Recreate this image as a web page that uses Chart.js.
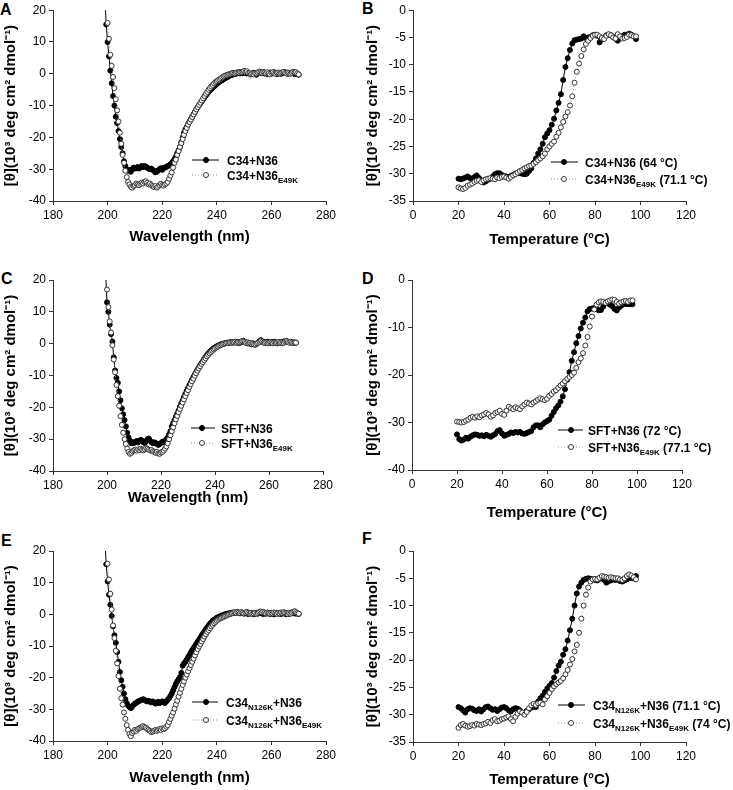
<!DOCTYPE html>
<html>
<head>
<meta charset="utf-8">
<script src="https://cdn.jsdelivr.net/npm/chart.js@4.4.1/dist/chart.umd.min.js"></script>
<style>
  body { margin: 0; background: #fff; width: 733px; height: 790px; position: relative; overflow: hidden; }
  canvas { position: absolute; }
  .letter { position: absolute; font: bold 16px "Liberation Sans", Arial, sans-serif; line-height: 16px; color: #000; }
</style>
</head>
<body>
<div class="letter" style="left:0px;top:2px">A</div>
<div class="letter" style="left:362px;top:1px">B</div>
<div class="letter" style="left:1px;top:271px">C</div>
<div class="letter" style="left:362px;top:271px">D</div>
<div class="letter" style="left:1px;top:533px">E</div>
<div class="letter" style="left:362px;top:531px">F</div>
<script>
// wavelength scans, 0.5 nm steps
const wavelengths = [
  199, 199.5, 200, 200.5, 201, 201.5, 202, 202.5, 203, 203.5,
  204, 204.5, 205, 205.5, 206, 206.5, 207, 207.5, 208, 208.5,
  209, 209.5, 210, 210.5, 211, 211.5, 212, 212.5, 213, 213.5,
  214, 214.5, 215, 215.5, 216, 216.5, 217, 217.5, 218, 218.5,
  219, 219.5, 220, 220.5, 221, 221.5, 222, 222.5, 223, 223.5,
  224, 224.5, 225, 225.5, 226, 226.5, 227, 227.5, 228, 228.5,
  229, 229.5, 230, 230.5, 231, 231.5, 232, 232.5, 233, 233.5,
  234, 234.5, 235, 235.5, 236, 236.5, 237, 237.5, 238, 238.5,
  239, 239.5, 240, 240.5, 241, 241.5, 242, 242.5, 243, 243.5,
  244, 244.5, 245, 245.5, 246, 246.5, 247, 247.5, 248, 248.5,
  249, 249.5, 250, 250.5, 251, 251.5, 252, 252.5, 253, 253.5,
  254, 254.5, 255, 255.5, 256, 256.5, 257, 257.5, 258, 258.5,
  259, 259.5, 260, 260.5, 261, 261.5, 262, 262.5, 263, 263.5,
  264, 264.5, 265, 265.5, 266, 266.5, 267, 267.5, 268, 268.5,
  269, 269.5, 270
];

// A: C34+N36 / C34+N36(E49K)
const aC34N36 = [
  24, 15.5, 10, 5.5, 1, -3, -7, -10, -13.5, -15.5,
  -18, -20.5, -23, -25, -27.5, -29, -30, -30.5, -30.3, -30.8,
  -30, -29.5, -29.8, -29.7, -29.3, -29.8, -29.5, -29, -29.3, -29,
  -29.2, -29.5, -29.8, -30, -29.8, -30.2, -30.5, -31, -30.8, -30.4,
  -30, -29.7, -30.2, -29.6, -29.5, -29.3, -29, -28.8, -28.5, -28,
  -27.5, -26.8, -26, -25, -24, -23, -21.5, -20, -18.5, -17.5,
  -16.7, -15.8, -15, -14.2, -13.5, -12.7, -12, -11.2, -10.5, -9.9,
  -9.3, -8.6, -8, -7.4, -6.8, -6.2, -5.7, -5.2, -4.8, -4.4,
  -4, -3.6, -3.2, -2.8, -2.5, -2.2, -2, -1.7, -1.4, -1.2,
  -1, -0.7, -0.5, -0.3, -0.2, 0, 0, 0.2, 0.3, 0.1,
  0.4, 0.2, 0.5, 0.3, 0.1, 0.3, 0, -0.2, 0.1, 0.3,
  0, -0.3, 0.2, 0.6, 0.4, 0.2, 0.5, 0.1, 0.3, -0.1,
  0.2, 0.4, 0, 0.3, 0.5, 0.2, -0.1, 0.1, 0.3, 0,
  0.2, 0.4, 0.5, 0.2, 0, 0.3, 0.1, 0.4, 0.2, -0.1,
  0.1, 0, -0.3
];
const aC34N36E49K = [
  null, null, 16, 11, 6, 2.5, -1, -4.5, -8, -11.5,
  -15, -18.5, -22, -25.5, -28, -30.5, -32.5, -34, -34.8, -35.5,
  -35.8, -35.3, -35, -34.5, -34.8, -35, -34.6, -34.2, -34.5, -34,
  -33.8, -34.3, -34.8, -34.5, -35, -35.3, -35.6, -35.3, -35.8, -35.5,
  -35, -34.6, -35, -35.2, -34.8, -34.5, -34, -33, -32, -31,
  -29.5, -28, -27, -25.5, -24.3, -23, -21.8, -20.5, -19.2, -18,
  -17, -16, -15.2, -14.4, -13.6, -12.8, -12, -11.2, -10.5, -9.8,
  -9.1, -8.4, -7.7, -7, -6.3, -5.7, -5, -4.5, -4, -3.5,
  -3, -2.6, -2.3, -2, -1.7, -1.4, -1.1, -0.8, -0.6, -0.4,
  -0.3, -0.1, 0, 0.2, 0.3, 0.1, 0.3, 0.5, 0.4, 0.6,
  0.5, 0.7, 0.9, 0.6, 0.8, 0.3, 0.2, -0.1, 0.1, -0.2,
  0.2, 0.1, 0.4, 0.7, 0.5, 0.3, 0.6, 0.4, 0.2, 0.5,
  0.1, -0.2, 0.3, 0.5, 0.2, 0, 0.3, 0.4, 0.1, 0.3,
  0.5, 0.6, 0.3, 0.1, 0.4, 0.2, 0, 0.3, 0.6, 0.4,
  0.5, 0.1, -0.2
];

// C: SFT+N36 / SFT+N36(E49K)
const cSFTN36 = [
  null, 22, 13, 10, 6, 3, 0.6, -4.3, -8.4, -10.8,
  -12.3, -15, -17.8, -20.3, -22.2, -24, -26, -28, -29.5, -30.5,
  -31.3, -31, -31.2, -30.8, -30.6, -31, -30.5, -30.2, -30.5, -31,
  -31.2, -30.6, -30, -29.8, -30.5, -31, -31.3, -31, -31.2, -31.5,
  -31.8, -31.5, -31.2, -30.8, -31, -30.5, -30, -29.5, -28.5, -27.5,
  -26, -25, -24, -23, -22, -21, -19.8, -18.8, -17.8, -16.8,
  -15.8, -14.8, -14, -13, -12.2, -11.3, -10.5, -9.7, -9, -8.2,
  -7.5, -6.8, -6.1, -5.5, -4.8, -4.2, -3.6, -3.1, -2.6, -2.2,
  -1.8, -1.5, -1.2, -0.9, -0.7, -0.5, -0.3, -0.1, 0, 0.1,
  0.2, 0.3, 0.2, 0.4, 0.5, 0.3, 0.4, 0.6, 0.3, 0.5,
  0.2, 0.4, 0.7, 0.9, 0.6, 0.3, 0.1, 0.3, 0, -0.2,
  0.1, -0.1, -0.3, 0, 0.4, 0.8, 1.1, 0.7, 0.4, 0.5,
  0.3, 0.6, 0.4, 0.2, 0.5, 0.3, 0.6, 0.4, 0.1, 0.3,
  0.5, 0.2, 0.4, 0.7, 0.5, 0.8, 0.6, 0.4, 0.5, 0.3,
  0.4, 0.2, 0.3
];
const cSFTN36E49K = [
  null, null, 17, 11.5, 7, 3.5, -0.5, -5, -9, -13,
  -16.5, -19.5, -22.8, -25.5, -28, -30, -31.5, -33, -34, -34.6,
  -34.3, -33.8, -33.5, -33.3, -33.6, -33.2, -33.4, -33, -33.3, -33.5,
  -33.2, -32.8, -33, -33.3, -33.6, -33.4, -33.8, -34, -34.3, -34,
  -34.5, -34.6, -34.2, -34, -33.6, -33, -32.3, -31.3, -30, -28.8,
  -27.5, -26.3, -25, -23.8, -22.7, -21.6, -20.5, -19.5, -18.5, -17.5,
  -16.5, -15.5, -14.6, -13.6, -12.7, -11.8, -11, -10.1, -9.3, -8.5,
  -7.8, -7.1, -6.4, -5.8, -5.2, -4.6, -4, -3.5, -3, -2.6,
  -2.2, -1.8, -1.5, -1.2, -0.9, -0.7, -0.5, -0.3, -0.1, 0,
  0.1, 0.3, 0.2, 0.4, 0.3, 0.5, 0.4, 0.6, 0.3, 0.5,
  0.4, 0.6, 0.8, 0.7, 0.5, 0.2, 0.4, 0.1, 0.2, -0.1,
  0, -0.3, -0.2, 0.1, 0.3, 0.6, 0.9, 0.6, 0.3, 0.2,
  0.4, 0.1, 0.3, 0.5, 0.3, 0.1, 0.4, 0.2, 0.3, 0.5,
  0.2, 0.4, 0.1, 0.3, 0.6, 0.8, 0.5, 0.3, 0.6, 0.4,
  0.2, 0.4, 0.3
];

// E: C34(N126K)+N36 / C34(N126K)+N36(E49K)
const eC34N126KN36 = [
  24, 15.8, 10.4, 6.2, 3, -0.5, -3.8, -6.6, -9, -11.9,
  -15, -18.2, -20.8, -22.9, -25, -26.8, -28, -28.8, -29.3, -29.6,
  -29.2, -28.6, -28.2, -28, -27.6, -27.4, -27.2, -27, -26.8, -27,
  -27.3, -27.5, -27.3, -27.6, -27.8, -27.5, -27.8, -28.2, -28, -27.6,
  -28, -27.8, -27.5, -27.8, -28, -27.5, -27, -26.5, -25.8, -25,
  -24, -23, -22, -21.2, -20.5, -19.8, -18.5, -16.2, -15.5, -15,
  -14.3, -13.5, -12.8, -12, -11.3, -10.6, -10, -9.3, -8.6, -8,
  -7.3, -6.6, -6, -5.3, -4.7, -4.1, -3.5, -3, -2.5, -2,
  -1.7, -1.4, -1.1, -0.9, -0.7, -0.5, -0.3, -0.2, 0, 0.1,
  0.2, 0.3, 0.4, 0.5, 0.6, 0.4, 0.5, 0.7, 0.5, 0.3,
  0.6, 0.4, 0.2, 0.5, 0.3, 0.1, 0.3, 0.5, 0.2, 0,
  0.3, 0.5, 0.2, 0.4, 0.6, 0.3, 0.1, 0.4, 0.2, 0.5,
  0.3, 0.1, 0.4, 0.2, 0, 0.3, 0.5, 0.2, 0.4, 0.1,
  0.3, 0.5, 0.2, 0, 0.3, 0.1, 0.4, 0.6, 0.3, 0.5,
  0.2, 0.4, 0.1
];
const eC34N126KN36E49K = [
  null, null, 16, 11, 6.5, 1.5, -3.5, -7.5, -11.5, -15.5,
  -19.5, -23.5, -26.5, -28.5, -31, -33, -35, -36.5, -37.8, -38.5,
  -37.5, -37, -36.5, -36.8, -36.3, -36, -35.8, -35.5, -35.3, -35.6,
  -35.8, -36.2, -36.5, -36.8, -37.2, -37, -36.8, -36.5, -36.8, -36.5,
  -36.2, -36.5, -36, -36.3, -36, -35.5, -35, -34, -33, -32,
  -31, -29.8, -28.5, -27.3, -26, -24.8, -23.5, -22.3, -21.2, -20,
  -19, -18, -17, -16, -15, -14, -13, -12, -11, -10.2,
  -9.4, -8.6, -7.8, -7, -6.3, -5.6, -5, -4.4, -3.8, -3.3,
  -2.8, -2.4, -2, -1.7, -1.4, -1.2, -1, -0.8, -0.6, -0.4,
  -0.2, 0, 0.1, 0.3, 0.5, 0.7, 0.5, 0.8, 0.6, 0.4,
  0.7, 0.5, 0.3, 0.6, 0.8, 0.5, 0.2, 0.4, 0.1, 0.3,
  0.5, 0.2, 0.4, 0.7, 0.9, 0.6, 0.8, 0.5, 0.3, 0.6,
  0.4, 0.2, 0.5, 0.3, 0.6, 0.4, 0.2, 0.5, 0.3, 0.6,
  0.4, 0.7, 0.5, 0.3, 0.1, 0.4, 0.2, 0.5, 0.8, 1,
  0.7, 0.4, 0.2
];

// thermal melts, 1 degree steps
const temps = [
  20, 21, 22, 23, 24, 25, 26, 27, 28, 29,
  30, 31, 32, 33, 34, 35, 36, 37, 38, 39,
  40, 41, 42, 43, 44, 45, 46, 47, 48, 49,
  50, 51, 52, 53, 54, 55, 56, 57, 58, 59,
  60, 61, 62, 63, 64, 65, 66, 67, 68, 69,
  70, 71, 72, 73, 74, 75, 76, 77, 78, 79,
  80, 81, 82, 83, 84, 85, 86, 87, 88, 89,
  90, 91, 92, 93, 94, 95, 96, 97, 98
];

const bC34N36 = [
  -30.9, -31, -30.9, -30.7, -30.5, -30.8, -30.9, -30.6, -30.3, -30.8,
  -31.2, -31.6, -31.4, -31.1, -30.9, -30.5, -30.1, -29.9, -29.9, -30.2,
  -30.4, -30.5, -30.6, -30.4, -30.2, -30, -29.8, -29.9, -30, -30.1,
  -30, -29.5, -29, -28, -27.2, -26.3, -25.5, -24.5, -23.3, -22.6,
  -22, -21, -19.9, -18.4, -17, -15.4, -12.8, -10.4, -8.8, -7.3,
  -6.1, -5.5, -5.4, -5.3, -5.2, -4.8, -5.1, -5, -4.9, -4.6,
  -4.5, -4.7, -5.9, -5.4, -5, -4.6, -4.5, -4.6, -4.9, -5.2,
  -5.6, -5, -4.8, -4.5, -4.5, -4.3, -4.5, -4.8, -5.3
];
const bC34N36E49K = [
  -32.5, -32.7, -32.8, -32.6, -32.2, -32, -31.8, -31.5, -31.3, -31.2,
  -31.5, -31.2, -31, -30.9, -30.8, -30.9, -31, -30.7, -30.8, -30.6,
  -30.5, -30.7, -30.9, -30.6, -30.3, -30.1, -29.8, -29.5, -29.3, -29,
  -28.8, -28.6, -28.5, -28.2, -27.9, -27.5, -27.2, -26.8, -26.3, -25.5,
  -25, -24.5, -24.1, -23.2, -22.5, -21.5, -20.5, -19.5, -18.7, -17.5,
  -15.8, -13.3, -11.3, -9.8, -8.4, -7.2, -6.2, -5.6, -5.1, -4.7,
  -4.5, -4.5, -4.8, -5.1, -5.3, -4.7, -4.4, -4.6, -5, -5.2,
  -4.4, -4.8, -5.2, -5.1, -4.9, -4.5, -4.6, -4.8, -4.8
];

const dSFTN36 = [
  -32.5, -33.5, -33.8, -33.6, -33.2, -33.4, -33, -32.7, -32.5, -32.6,
  -32.8, -32.7, -32.9, -32.6, -32.8, -33, -32.7, -32.4, -31.8, -31.6,
  -32.3, -32.8, -32.6, -32.4, -32.1, -32.2, -32, -32.1, -32, -32.3,
  -32.4, -32.2, -32, -31.8, -31, -30.6, -30.6, -31, -30.4, -30,
  -29.7, -29.4, -28.6, -27.8, -27, -26.4, -25.6, -24.5, -23, -21,
  -19.4, -17, -15.2, -13.3, -11.8, -10.2, -9, -7.9, -6.6, -6.1,
  -6, -5.9, -6.1, -6.4, -6.3, -5.6, -4.8, -4.9, -5.2, -5.5,
  -6.1, -6.4, -5.8, -5.4, -5.1, -5, -5.1, -5.1, -5.1
];
const dSFTN36E49K = [
  -29.8, -29.9, -30, -29.9, -29.6, -29.4, -29, -28.8, -29, -28.7,
  -28.9, -28.5, -28.3, -28, -28.3, -28.8, -28.5, -28, -27.8, -27.5,
  -28.2, -28.4, -27.5, -26.7, -27, -27.2, -26.8, -27, -27.2, -26.6,
  -26.2, -25.8, -26, -26.2, -25.8, -25.5, -25.2, -24.9, -25.1, -25.3,
  -25, -24.4, -24, -23.5, -23.2, -22.7, -22.2, -21.8, -21.3, -20.8,
  -20.4, -20, -19.5, -18.5, -17.3, -16.5, -15.4, -13.8, -12, -9.8,
  -7.7, -6.2, -5.2, -4.7, -4.5, -4.6, -4.8, -4.5, -4.3, -4.1,
  -4.2, -4.6, -5, -4.7, -4.5, -4.4, -4.6, -4.3, -4.3
];

const fC34N126KN36 = [
  -28.6, -28.8, -29.2, -29.6, -29, -28.8, -28.9, -29.2, -29.3, -29,
  -29.4, -29, -28.6, -28.5, -28.8, -29.1, -29, -29.3, -29, -28.7,
  -28.6, -28.8, -29.2, -29.4, -29, -28.8, -28.9, -29.2, -29.6, -29.6,
  -29.3, -29, -28.7, -28.5, -28.6, -27.6, -27, -26.5, -25.8, -25.2,
  -24.7, -24.2, -23.2, -22, -21, -20.3, -19, -18, -16.4, -14.5,
  -12.4, -10, -7.8, -6.5, -5.8, -5.3, -5.1, -5, -5.1, -5.2,
  -5.3, -5.4, -5.1, -5, -5.3, -5.8, -5.5, -5.4, -5.2, -5.3,
  -5.2, -5.5, -5.6, -5.4, -5.2, -5, -4.9, -5, -4.6
];
const fC34N126KN36E49K = [
  -32.4, -31.9, -31.7, -32, -32.2, -32.1, -31.9, -32, -31.7, -31.8,
  -31.9, -31.7, -31.6, -31.3, -31.5, -31, -30.8, -31.2, -31.1, -30.8,
  -30.7, -30.5, -30.3, -30.8, -31.2, -30.4, -29.8, -29.4, -29.6, -30,
  -29.5, -28.8, -28.3, -28, -28.2, -27.9, -27.8, -28.1, -27.2, -26.6,
  -26, -25.3, -24.8, -24.4, -24.1, -23.8, -23.3, -22.6, -21.8, -20.8,
  -19.8, -18.4, -17.2, -15, -12.4, -10, -8, -6.7, -5.6, -5.2,
  -5.1, -5.2, -4.9, -4.6, -4.7, -4.8, -4.9, -4.8, -4.9, -5,
  -5, -5.2, -5.3, -5, -4.6, -4.3, -4.5, -4.8, -5.2
];

// legend labels: [text, isSubscript]
const legendA = [[['C34+N36', 0]], [['C34+N36', 0], ['E49K', 1]]];
const legendB = [[['C34+N36 (64 °C)', 0]], [['C34+N36', 0], ['E49K', 1], [' (71.1 °C)', 0]]];
const legendC = [[['SFT+N36', 0]], [['SFT+N36', 0], ['E49K', 1]]];
const legendD = [[['SFT+N36 (72 °C)', 0]], [['SFT+N36', 0], ['E49K', 1], [' (77.1 °C)', 0]]];
const legendE = [[['C34', 0], ['N126K', 1], ['+N36', 0]], [['C34', 0], ['N126K', 1], ['+N36', 0], ['E49K', 1]]];
const legendF = [[['C34', 0], ['N126K', 1], ['+N36 (71.1 °C)', 0]], [['C34', 0], ['N126K', 1], ['+N36', 0], ['E49K', 1], [' (74 °C)', 0]]];

const FONT = '"Liberation Sans", Arial, sans-serif';
const yTitle = '[θ](10³ deg cm² dmol⁻¹)';

// legend with subscripts, drawn on the canvas
const subLegend = {
  id: 'subLegend',
  afterDraw(chart, args, opts) {
    const ctx = chart.ctx;
    const ox = opts.ox, oy = opts.oy;
    opts.rows.forEach((parts, r) => {
      const y = opts.ys[r] - oy;
      ctx.save();
      ctx.lineWidth = 1;
      if (r === 0) { ctx.strokeStyle = '#000'; ctx.setLineDash([]); }
      else { ctx.strokeStyle = '#999'; ctx.setLineDash([1, 2]); }
      ctx.beginPath();
      ctx.moveTo(opts.x0 - ox, y);
      ctx.lineTo(opts.x1 - ox, y);
      ctx.stroke();
      ctx.setLineDash([]);
      ctx.beginPath();
      ctx.arc(opts.mx - ox, y, 2.5, 0, Math.PI * 2);
      ctx.fillStyle = r === 0 ? '#000' : '#fff';
      ctx.fill();
      ctx.strokeStyle = r === 0 ? '#000' : '#333';
      ctx.stroke();
      let x = opts.tx - ox;
      ctx.fillStyle = '#000';
      ctx.textBaseline = 'alphabetic';
      parts.forEach(p => {
        ctx.font = p[1] ? 'bold 8px ' + FONT : 'bold 12px ' + FONT;
        ctx.fillText(p[0], x, y + 4.5 + (p[1] ? 3 : 0));
        x += ctx.measureText(p[0]).width;
      });
      ctx.restore();
    });
  }
};

function axis(min, max, step, title, size, isX) {
  const o = {
    type: 'linear', min: min, max: max,
    ticks: { stepSize: step, color: '#000', padding: 3, font: { family: FONT, size: 12 } },
    grid: { drawOnChartArea: false, drawTicks: true, tickLength: 4, color: '#333' },
    border: { display: true, color: '#333', width: 1 },
    title: { display: true, text: title, color: '#000', font: { family: FONT, size: 15, weight: 'bold' },
      padding: isX ? { top: 0, bottom: 0 } : { top: 2, bottom: 0 } }
  };
  if (isX) o.afterFit = s => { s.height = size; };
  else o.afterFit = s => { s.width = size; };
  return o;
}

function makePanel(p) {
  const [bx, by, bw, bh] = p.box;
  const [al, at, ar, ab] = p.area;
  const xBottom = p.xTitleY + 9;
  const canvas = document.createElement('canvas');
  canvas.width = bw;
  canvas.height = bh;
  canvas.style.left = bx + 'px';
  canvas.style.top = by + 'px';
  document.body.appendChild(canvas);

  new Chart(canvas, {
    type: 'line',
    data: {
      datasets: [
        {
          label: 'open', order: 0,
          data: p.xs.map((x, i) => ({ x: x, y: p.open[i] })),
          borderColor: '#999', borderWidth: 1, borderDash: [1, 2],
          pointRadius: 2.5, pointBorderWidth: 1,
          pointBackgroundColor: '#fff', pointBorderColor: '#333'
        },
        {
          label: 'filled', order: 1,
          data: p.xs.map((x, i) => ({ x: x, y: p.filled[i] })),
          borderColor: '#000', borderWidth: 1,
          pointRadius: 2.5, pointBorderWidth: 1,
          pointBackgroundColor: '#000', pointBorderColor: '#000'
        }
      ]
    },
    options: {
      responsive: false,
      animation: false,
      devicePixelRatio: 1,
      layout: { padding: { left: 0, top: at - by, right: bx + bw - ar, bottom: by + bh - xBottom } },
      plugins: {
        legend: { display: false },
        tooltip: { enabled: false },
        subLegend: Object.assign({ ox: bx, oy: by, rows: p.legend }, p.leg)
      },
      scales: {
        x: axis(p.xr[0], p.xr[1], p.xr[2], p.xTitle, xBottom - ab, true),
        y: axis(p.yr[0], p.yr[1], p.yr[2], yTitle, al - bx, false)
      }
    },
    plugins: [subLegend]
  });
}

const wlTitle = 'Wavelength (nm)';
const tTitle = 'Temperature (°C)';

makePanel({ box: [0, 0, 362, 260], area: [53, 9, 326, 201], xTitleY: 237,
  xs: wavelengths, filled: aC34N36, open: aC34N36E49K, xr: [180, 280, 20], yr: [-40, 20, 10], xTitle: wlTitle,
  legend: legendA, leg: { x0: 192, x1: 219, mx: 206, tx: 227, ys: [160, 175] } });
makePanel({ box: [362, 0, 371, 260], area: [413, 9, 686, 201], xTitleY: 240,
  xs: temps, filled: bC34N36, open: bC34N36E49K, xr: [0, 120, 20], yr: [-35, 0, 5], xTitle: tTitle,
  legend: legendB, leg: { x0: 551, x1: 578, mx: 564, tx: 585, ys: [162, 179] } });
makePanel({ box: [0, 260, 362, 262], area: [53, 280, 323, 471], xTitleY: 498,
  xs: wavelengths, filled: cSFTN36, open: cSFTN36E49K, xr: [180, 280, 20], yr: [-40, 20, 10], xTitle: wlTitle,
  legend: legendC, leg: { x0: 191, x1: 215, mx: 202, tx: 221, ys: [428, 443] } });
makePanel({ box: [362, 260, 371, 262], area: [412, 280, 682, 470], xTitleY: 513,
  xs: temps, filled: dSFTN36, open: dSFTN36E49K, xr: [0, 120, 20], yr: [-40, 0, 10], xTitle: tTitle,
  legend: legendD, leg: { x0: 558, x1: 583, mx: 571, tx: 588, ys: [430, 447] } });
makePanel({ box: [0, 522, 362, 268], area: [53, 551, 326, 741], xTitleY: 778,
  xs: wavelengths, filled: eC34N126KN36, open: eC34N126KN36E49K, xr: [180, 280, 20], yr: [-40, 20, 10], xTitle: wlTitle,
  legend: legendE, leg: { x0: 192, x1: 218, mx: 206, tx: 226, ys: [702, 720] } });
makePanel({ box: [362, 522, 371, 268], area: [413, 551, 686, 742], xTitleY: 780,
  xs: temps, filled: fC34N126KN36, open: fC34N126KN36E49K, xr: [0, 120, 20], yr: [-35, 0, 5], xTitle: tTitle,
  legend: legendF, leg: { x0: 558, x1: 585, mx: 571, tx: 593, ys: [705, 723] } });
</script>
</body>
</html>
